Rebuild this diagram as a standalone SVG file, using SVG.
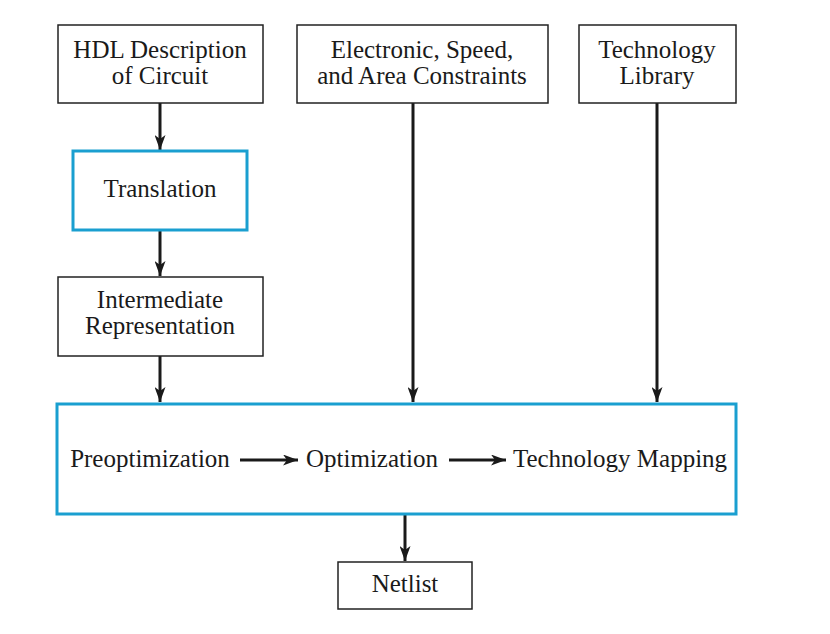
<svg xmlns="http://www.w3.org/2000/svg" width="830" height="634" viewBox="0 0 830 634">
<style>
.b{fill:#fff;stroke:#222;stroke-width:1.5}
.c{fill:#fff;stroke:#1a9fd0;stroke-width:3}
text{font-family:"Liberation Serif","Times New Roman",serif;font-size:25px;fill:#1a1a1a;text-anchor:middle}
.w{stroke:#1a1a1a;stroke-width:3;fill:none}
</style>
<defs>
<marker id="ah" viewBox="0 0 15 11" refX="15" refY="5.5" markerWidth="15" markerHeight="11" markerUnits="userSpaceOnUse" orient="auto">
<path d="M0,0 L15,5.5 L0,11 L4,5.5 Z" fill="#1a1a1a"/>
</marker>
</defs>
<rect width="830" height="634" fill="#fff"/>
<g id="connectors">
<line class="w" x1="160" y1="103" x2="160" y2="150" marker-end="url(#ah)"/>
<line class="w" x1="160" y1="230" x2="160" y2="276" marker-end="url(#ah)"/>
<line class="w" x1="160" y1="356" x2="160" y2="402" marker-end="url(#ah)"/>
<line class="w" x1="413" y1="103" x2="413" y2="402" marker-end="url(#ah)"/>
<line class="w" x1="657" y1="103" x2="657" y2="402" marker-end="url(#ah)"/>
<line class="w" x1="405" y1="514" x2="405" y2="561" marker-end="url(#ah)"/>
</g>
<g id="hdl"><rect class="b" x="58" y="25" width="205" height="78"/><text x="160" y="58">HDL Description</text><text x="160" y="84">of Circuit</text></g>
<g id="constraints"><rect class="b" x="297" y="25" width="251" height="78"/><text x="422" y="58">Electronic, Speed,</text><text x="422" y="84">and Area Constraints</text></g>
<g id="library"><rect class="b" x="579" y="25" width="157" height="78"/><text x="657" y="58">Technology</text><text x="657" y="84">Library</text></g>
<g id="translation"><rect class="c" x="73" y="151" width="174" height="79"/><text x="160" y="197">Translation</text></g>
<g id="intermediate"><rect class="b" x="58" y="277" width="205" height="79"/><text x="160" y="308">Intermediate</text><text x="160" y="334">Representation</text></g>
<g id="synthesis"><rect class="c" x="57" y="404" width="679" height="110"/>
<text x="150" y="467">Preoptimization</text>
<line class="w" x1="240" y1="460" x2="298" y2="460" marker-end="url(#ah)"/>
<text x="372" y="467">Optimization</text>
<line class="w" x1="449" y1="460" x2="506" y2="460" marker-end="url(#ah)"/>
<text x="620" y="467">Technology Mapping</text>
</g>
<g id="netlist"><rect class="b" x="338" y="562" width="134" height="47"/><text x="405" y="592">Netlist</text></g>
</svg>
